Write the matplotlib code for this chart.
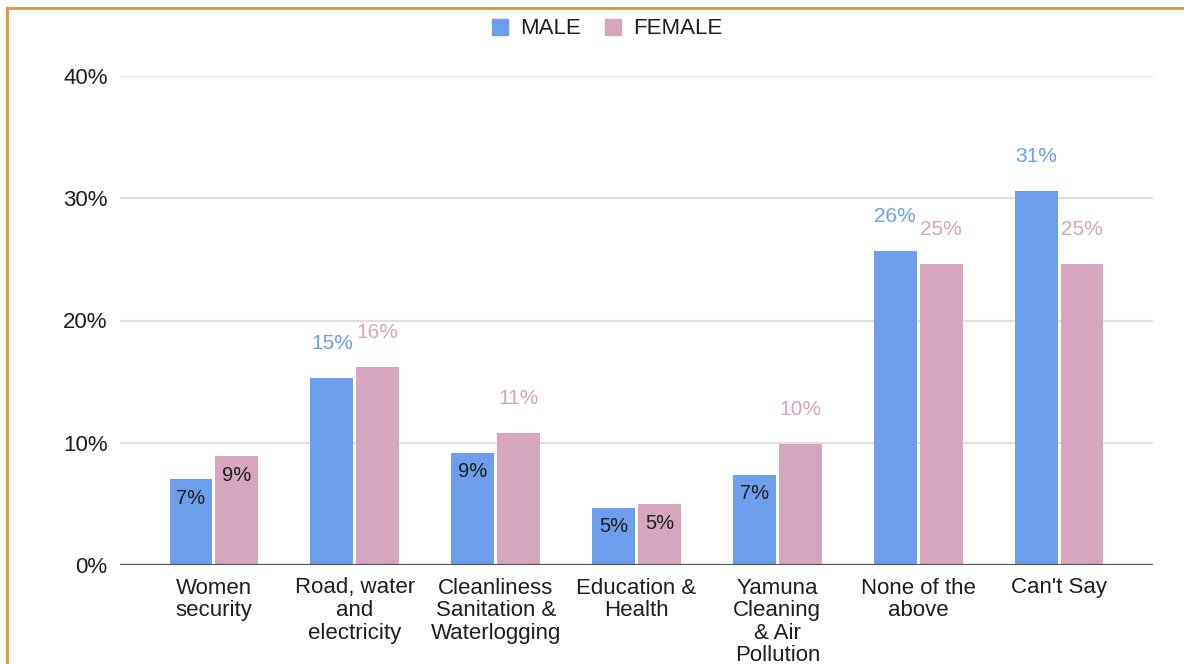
import matplotlib.pyplot as plt
import numpy as np
from matplotlib.patches import Patch
from matplotlib.lines import Line2D

plt.rcParams['font.family'] = ['Liberation Sans', 'DejaVu Sans']

categories = ["Women\nsecurity", "Road, water\nand\nelectricity",
              "Cleanliness\nSanitation &\nWaterlogging", "Education &\nHealth",
              "Yamuna\nCleaning\n& Air\nPollution", "None of the\nabove", "Can't Say"]
male = [7.0, 15.3, 9.2, 4.7, 7.4, 25.7, 30.6]
female = [8.9, 16.2, 10.8, 5.0, 9.9, 24.6, 24.6]
yticks = [0, 10, 20, 30, 40]

BLUE = '#6d9eeb'
PINK = '#d5a6bd'
TEXT = '#1e1e1e'

fig = plt.figure(figsize=(11.84, 6.64), dpi=100)
ax = fig.add_axes([120 / 1184, 1 - 565 / 664, (1153 - 120) / 1184, (565 - 76) / 664])

x = np.arange(len(categories))
w = 0.305
off = 0.163
bars_m = ax.bar(x - off, male, w, color=BLUE, zorder=3)
bars_f = ax.bar(x + off, female, w, color=PINK, zorder=3)

# value labels: small bars get a dark label inside, the rest a coloured one above
for bars, vals, col in [(bars_m, male, BLUE), (bars_f, female, PINK)]:
    for b, v in zip(bars, vals):
        cx = b.get_x() + b.get_width() / 2
        if v < 9.5:
            ax.annotate(f"{v:.0f}%", (cx, v), xytext=(0, -14), textcoords='offset points',
                        ha='center', va='center', fontsize=14.5, color=TEXT, zorder=4)
        else:
            ax.annotate(f"{v:.0f}%", (cx, v), xytext=(0, 25), textcoords='offset points',
                        ha='center', va='center', fontsize=15, color=col, zorder=4)

ax.set_xlim(-0.667, 6.667)
ax.set_ylim(0, 40)
ax.set_yticks(yticks)
ax.set_yticklabels([f"{t}%" for t in yticks], fontsize=16, color=TEXT)
ax.set_xticks(x)
ax.set_xticklabels(categories, fontsize=16, color=TEXT, linespacing=1.1)
ax.tick_params(axis='both', length=0)
ax.tick_params(axis='x', pad=9)
ax.tick_params(axis='y', pad=9)
for s in ax.spines.values():
    s.set_visible(False)
ax.grid(axis='y', color='#e0e0e0', linewidth=1.5, zorder=0)
ax.axhline(0, color='#555555', linewidth=1.6, zorder=4)

handles = [Patch(color=BLUE, label='MALE'), Patch(color=PINK, label='FEMALE')]
fig.legend(handles=handles, loc='center', bbox_to_anchor=(607 / 1184, 1 - 29 / 664),
           ncol=2, frameon=False, fontsize=16, handlelength=0.7, handleheight=0.7,
           handletextpad=0.55, columnspacing=1.1, labelcolor=TEXT)

# orange frame (left and top edges visible)
orange = '#e69138'
fig.add_artist(Line2D([7 / 1184, 7 / 1184], [0, 1 - 8 / 664], color=orange, linewidth=2,
                      transform=fig.transFigure))
fig.add_artist(Line2D([7 / 1184, 1], [1 - 8 / 664, 1 - 8 / 664], color=orange, linewidth=2,
                      transform=fig.transFigure))

fig.savefig('out.png', dpi=100)
